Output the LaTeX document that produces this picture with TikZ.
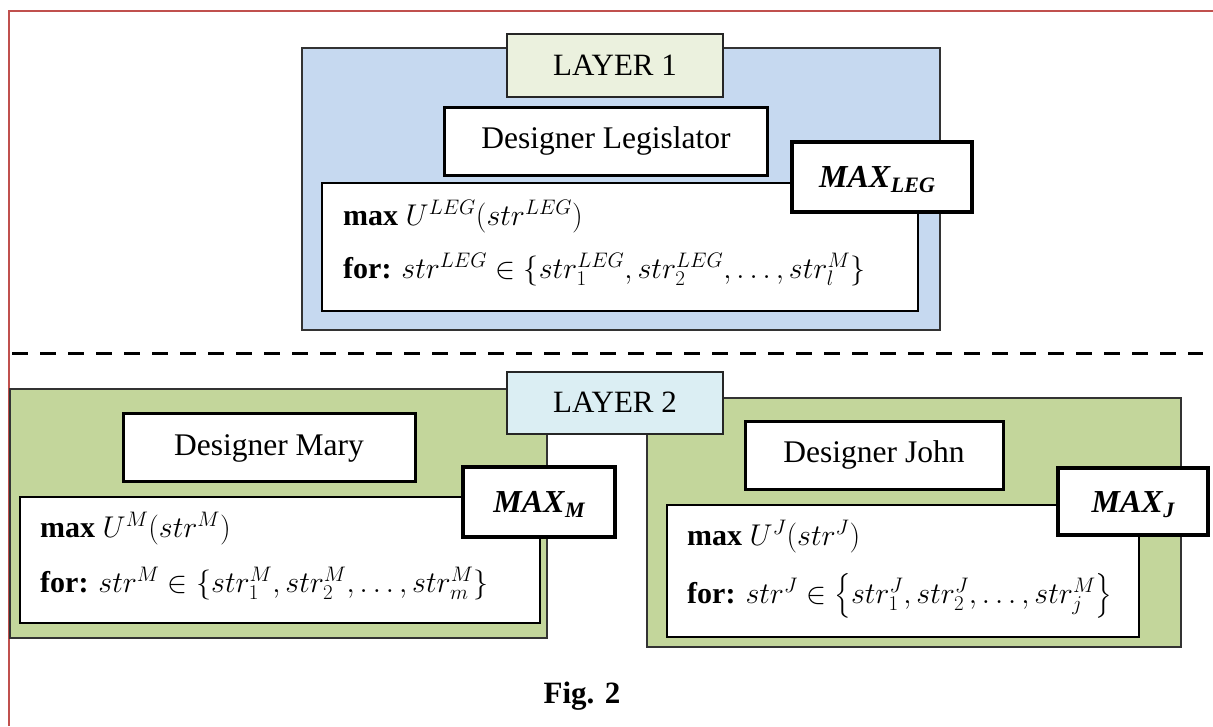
\RequirePackage{fix-cm}
\documentclass[tikz,border=0pt]{standalone}
\usepackage{amsmath}
\usepackage{fontspec}
\setmainfont{Liberation Serif}
\definecolor{layerblue}{HTML}{C6D9F0}
\definecolor{layergreen}{HTML}{C3D69B}
\definecolor{labelgreen}{HTML}{EBF1DE}
\definecolor{labelblue}{HTML}{DBEEF3}
\definecolor{framered}{HTML}{C0504D}
\newcommand{\placebox}[6]{\node[#2, anchor=north west, inner sep=0pt, outer sep=0pt, minimum width={(#5-#3)*1pt}, minimum height={(#6-#4)*1pt}] (#1) at (#3,#4) {};}
\newcommand{\maxlab}[1]{\textbf{\textit{MAX}}\raisebox{-0.16em}{\fontsize{22}{22}\selectfont\bfseries\itshape #1}}
\tikzset{
  outerlayer/.style={draw=black!80, line width=1.3pt},
  labelbox/.style={draw=black!85, line width=1.6pt},
  desbox/.style={draw=black, line width=3pt, fill=white},
  formbox/.style={draw=black, line width=1.6pt, fill=white},
  maxbox/.style={draw=black, line width=4.5pt, fill=white},
  ctxt/.style={inner sep=0pt, anchor=base, font=\fontsize{31}{36}\selectfont},
  dtxt/.style={inner sep=0pt, anchor=base, font=\fontsize{31.5}{36}\selectfont},
  ftxt/.style={inner sep=0pt, anchor=base west, font=\fontsize{30}{36}\selectfont},
  mtxt/.style={inner sep=0pt, anchor=base, font=\fontsize{32}{36}\selectfont},
}
\begin{document}
\begin{tikzpicture}[x=1pt,y=-1pt]
\useasboundingbox (0,0) rectangle (1213,726);
% red frame
\coordinate (fr1) at (9,726);
\coordinate (fr2) at (9,11);
\coordinate (fr3) at (1213,11);
\draw[framered, line width=1.5pt] (fr1) -- (fr2) -- (fr3);

% ---------- Layer 1 ----------
\placebox{l1}{outerlayer, fill=layerblue}{302}{48}{940}{330}
\placebox{l1lab}{labelbox, fill=labelgreen}{507}{34}{723}{97}
\node[ctxt] (l1t) at (615,75) {LAYER 1};
\placebox{legdes}{desbox}{444}{107}{767}{175}
\node[dtxt] (legdest) at (606,148) {Designer Legislator};
\placebox{legform}{formbox}{322}{183}{918}{311}
\node[ftxt] (legf1) at (343,225) {\textbf{max} $U^{LEG}(str^{LEG})$};
\node[ftxt] (legf2) at (343,278) {\textbf{for:} $str^{LEG}\in\{str_1^{LEG},str_2^{LEG},\dots,str_l^{M}\}$};
\placebox{legmax}{maxbox}{792}{142}{972}{212}
\node[mtxt] (legmaxt) at (877,187) {\maxlab{LEG}};

% dashed separator
\coordinate (dsh0) at (12,353);
\coordinate (dsh1) at (1203,353);
\draw[line width=3pt, dash pattern=on 16pt off 12pt] (dsh0) -- (dsh1);

% ---------- Layer 2 ----------
\placebox{mary}{outerlayer, fill=layergreen}{10}{389}{547}{638}
\placebox{john}{outerlayer, fill=layergreen}{647}{398}{1181}{647}
\placebox{l2lab}{labelbox, fill=labelblue}{507}{372}{723}{434}
\node[ctxt] (l2t) at (615,412) {LAYER 2};

\placebox{mdes}{desbox}{123}{413}{415}{481}
\node[dtxt] (mdest) at (269,455) {Designer Mary};
\placebox{mform}{formbox}{20}{497}{540}{623}
\node[ftxt] (mf1) at (40,537) {\textbf{max} $U^{M}(str^{M})$};
\node[ftxt] (mf2) at (40,592) {\textbf{for:} $str^{M}\in\{str_1^{M},str_2^{M},\dots,str_m^{M}\}$};
\placebox{mmax}{maxbox}{463}{467}{615}{537}
\node[mtxt] (mmaxt) at (539,512) {\maxlab{M}};

\placebox{jdes}{desbox}{745}{421}{1003}{489}
\node[dtxt] (jdest) at (874,462) {Designer John};
\placebox{jform}{formbox}{667}{505}{1139}{637}
\node[ftxt] (jf1) at (687,545) {\textbf{max} $U^{J}(str^{J})$};
\node[ftxt] (jf2) at (687,603) {\textbf{for:} $str^{J}\in\left\{str_1^{J},str_2^{J},\dots,str_j^{M}\right\}$};
\placebox{jmax}{maxbox}{1058}{468}{1208}{535}
\node[mtxt] (jmaxt) at (1133,512) {\maxlab{J}};

% caption
\node[ctxt, font=\fontsize{31}{36}\selectfont\bfseries] (cap) at (582,703) {Fig. 2};
\end{tikzpicture}
\end{document}
